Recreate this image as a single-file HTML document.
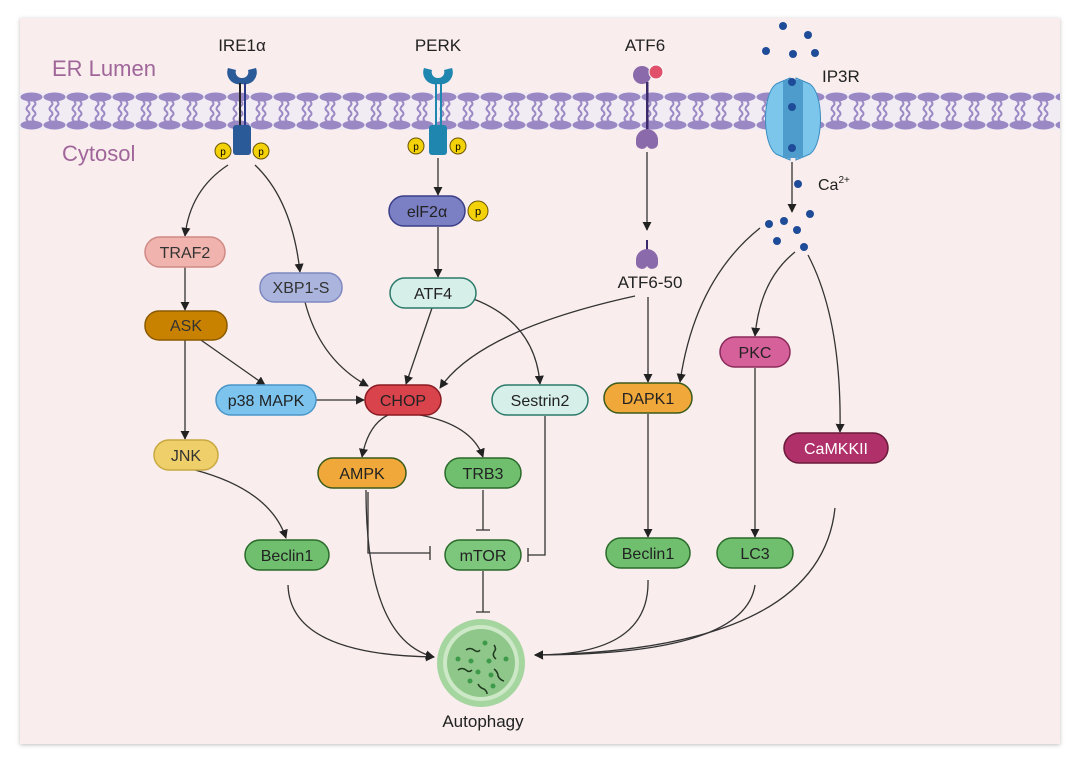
<!DOCTYPE html>
<html><head><meta charset="utf-8"><style>
html,body{margin:0;padding:0;background:#fff;}
svg{display:block;font-family:"Liberation Sans",sans-serif;}
</style></head><body>
<svg width="1080" height="764" viewBox="0 0 1080 764" xmlns="http://www.w3.org/2000/svg">
<defs>
<marker id="a" viewBox="0 0 10 10" refX="9" refY="5" markerWidth="7" markerHeight="7" orient="auto-start-reverse"><path d="M0,0 L10,5 L0,10 z" fill="#222"/></marker>
<filter id="sh" x="-5%" y="-5%" width="110%" height="110%"><feDropShadow dx="0" dy="1" stdDeviation="2" flood-color="#000" flood-opacity="0.25"/></filter>
<pattern id="lip" x="20" y="92" width="23" height="38" patternUnits="userSpaceOnUse">
<ellipse cx="11.5" cy="5" rx="11" ry="4.5" fill="#9a88c4"/>
<ellipse cx="11.5" cy="33" rx="11" ry="4.5" fill="#9a88c4"/>
<path d="M8,9 q3,3 0,5 q-3,3 0,5 M14,9 q3,3 0,5 q-3,3 0,5 M8,19 q3,3 0,5 q-3,3 0,5 M14,19 q3,3 0,5 q-3,3 0,5" stroke="#9a88c4" stroke-width="2" fill="none"/>
</pattern>
</defs>
<rect x="20" y="18" width="1040" height="726" fill="#f9eded" filter="url(#sh)"/>
<rect x="20" y="92" width="1040" height="38" fill="#f1ebf3"/>
<rect x="20" y="92" width="1040" height="38" fill="url(#lip)"/>

<g font-size="22" fill="#a0669a">
<text x="52" y="76">ER Lumen</text>
<text x="62" y="161">Cytosol</text>
</g>
<g font-size="17" fill="#222" text-anchor="middle">
<text x="242" y="51">IRE1α</text>
<text x="438" y="51">PERK</text>
<text x="645" y="51">ATF6</text>
<text x="650" y="288">ATF6-50</text>
<text x="483" y="727">Autophagy</text>
</g>
<text x="822" y="82" font-size="17" fill="#222">IP3R</text>
<text x="818" y="190" font-size="16" fill="#222">Ca<tspan font-size="10" dy="-7">2+</tspan></text>

<!-- IRE1 -->
<path d="M228,68 a12,12 0 0 0 14,16 l0,-6 a6,6 0 0 1 -6,-8z M256,68 a12,12 0 0 1 -14,16 l0,-6 a6,6 0 0 0 6,-8z" fill="#2a5a98"/>
<rect x="239" y="83" width="2" height="44" fill="#222"/><rect x="244" y="83" width="2" height="44" fill="#2a3a88"/>
<rect x="233" y="125" width="18" height="30" rx="3" fill="#2a5a98"/>
<circle cx="223" cy="151" r="8" fill="#f4d20a" stroke="#6a5500"/><text x="223" y="155" font-size="10" text-anchor="middle">p</text>
<circle cx="261" cy="151" r="8" fill="#f4d20a" stroke="#6a5500"/><text x="261" y="155" font-size="10" text-anchor="middle">p</text>
<!-- PERK -->
<path d="M424,68 a12,12 0 0 0 14,16 l0,-6 a6,6 0 0 1 -6,-8z M452,68 a12,12 0 0 1 -14,16 l0,-6 a6,6 0 0 0 6,-8z" fill="#1f86b0"/>
<rect x="435" y="83" width="2" height="44" fill="#1f86b0"/><rect x="440" y="83" width="2" height="44" fill="#1f86b0"/>
<rect x="429" y="125" width="18" height="30" rx="3" fill="#1f86b0"/>
<circle cx="416" cy="146" r="8" fill="#f4d20a" stroke="#6a5500"/><text x="416" y="150" font-size="10" text-anchor="middle">p</text>
<circle cx="458" cy="146" r="8" fill="#f4d20a" stroke="#6a5500"/><text x="458" y="150" font-size="10" text-anchor="middle">p</text>
<!-- ATF6 -->
<circle cx="642" cy="75" r="9" fill="#8a6aaa"/><circle cx="656" cy="72" r="7" fill="#e0506a" stroke="#fff"/>
<rect x="646" y="82" width="2.5" height="48" fill="#3a2a6a"/>
<path d="M636,140 a11,11 0 0 1 22,0 l0,4 a6,6 0 0 1 -11,2 a6,6 0 0 1 -11,-2z" fill="#8a6aaa"/>
<rect x="646" y="240" width="2" height="10" fill="#3a2a6a"/>
<path d="M636,260 a11,11 0 0 1 22,0 l0,4 a6,6 0 0 1 -11,2 a6,6 0 0 1 -11,-2z" fill="#8a6aaa"/>
<!-- IP3R -->
<path d="M790,78 l-14,6 c-14,10 -14,60 0,70 l14,6z M796,78 l14,6 c14,10 14,60 0,70 l-14,6z" fill="#7cc6ec" stroke="#3b8cc0"/>
<rect x="783" y="80" width="20" height="78" fill="#4d9ccc"/>
<g fill="#1f4c98">
<circle cx="783" cy="26" r="4"/><circle cx="808" cy="35" r="4"/><circle cx="766" cy="51" r="4"/><circle cx="793" cy="54" r="4"/><circle cx="815" cy="53" r="4"/>
<circle cx="792" cy="82" r="4"/><circle cx="792" cy="107" r="4"/><circle cx="792" cy="148" r="4"/><circle cx="798" cy="184" r="4"/>
<circle cx="810" cy="214" r="4"/><circle cx="769" cy="224" r="4"/><circle cx="784" cy="221" r="4"/><circle cx="797" cy="230" r="4"/><circle cx="777" cy="241" r="4"/><circle cx="804" cy="247" r="4"/>
</g>

<!-- connectors -->
<g fill="none" stroke="#333" stroke-width="1.3">
<path d="M228,165 Q190,190 185,236" marker-end="url(#a)"/>
<path d="M255,165 Q292,200 300,272" marker-end="url(#a)"/>
<path d="M185,267 L185,310" marker-end="url(#a)"/>
<path d="M198,338 L265,385" marker-end="url(#a)"/>
<path d="M185,340 L185,439" marker-end="url(#a)"/>
<path d="M305,302 Q320,360 368,386" marker-end="url(#a)"/>
<path d="M316,400 L364,400" marker-end="url(#a)"/>
<path d="M432,308 L406,384" marker-end="url(#a)"/>
<path d="M468,297 Q535,320 540,384" marker-end="url(#a)"/>
<path d="M635,296 Q480,330 440,388" marker-end="url(#a)"/>
<path d="M648,297 L648,382" marker-end="url(#a)"/>
<path d="M438,158 L438,195" marker-end="url(#a)"/>
<path d="M438,227 L438,277" marker-end="url(#a)"/>
<path d="M388,415 Q368,425 362,457" marker-end="url(#a)"/>
<path d="M420,415 Q472,425 483,457" marker-end="url(#a)"/>
<path d="M483,490 L483,530 M476,530 L490,530"/>
<path d="M368,492 L368,553 L430,553 M430,546 L430,560"/>
<path d="M545,416 L545,555 L528,555 M528,548 L528,562"/>
<path d="M483,571 L483,612 M476,612 L490,612"/>
<path d="M195,470 Q270,490 286,538" marker-end="url(#a)"/>
<path d="M288,585 Q290,655 434,657" marker-end="url(#a)"/>
<path d="M366,490 Q366,640 434,657" marker-end="url(#a)"/>
<path d="M648,580 Q650,655 535,655" marker-end="url(#a)"/>
<path d="M755,585 Q745,655 535,655" marker-end="url(#a)"/>
<path d="M835,508 Q820,650 535,655" marker-end="url(#a)"/>
<path d="M760,228 Q695,280 680,382" marker-end="url(#a)"/>
<path d="M795,252 Q760,280 755,336" marker-end="url(#a)"/>
<path d="M808,255 Q842,320 840,432" marker-end="url(#a)"/>
<path d="M648,414 L648,537" marker-end="url(#a)"/>
<path d="M755,368 L755,537" marker-end="url(#a)"/>
<path d="M647,152 L647,230" marker-end="url(#a)"/>
<path d="M792,162 L792,212" marker-end="url(#a)"/>
</g>

<!-- nodes -->
<g font-size="16" text-anchor="middle" stroke-width="1.5">
<rect x="145" y="237" width="80" height="30" rx="15" fill="#f0b3ad" stroke="#d08a85"/><text x="185" y="258" fill="#333">TRAF2</text>
<rect x="260" y="273" width="82" height="29" rx="14" fill="#aab4dc" stroke="#7d88c0"/><text x="301" y="293" fill="#333">XBP1-S</text>
<rect x="145" y="311" width="82" height="29" rx="14" fill="#c98200" stroke="#8a5a00"/><text x="186" y="331" fill="#333">ASK</text>
<rect x="216" y="385" width="100" height="30" rx="15" fill="#7cc4ee" stroke="#4a94c8"/><text x="266" y="406" fill="#222">p38 MAPK</text>
<rect x="154" y="440" width="64" height="30" rx="15" fill="#efcf6a" stroke="#c8a840"/><text x="186" y="461" fill="#333">JNK</text>
<rect x="389" y="196" width="76" height="30" rx="15" fill="#7b7fc4" stroke="#3a3e88"/><text x="427" y="217" fill="#222">elF2α</text>
<circle cx="478" cy="211" r="10" fill="#f4d20a" stroke="#6a5500" stroke-width="1"/><text x="478" y="215" font-size="11">p</text>
<rect x="390" y="278" width="86" height="30" rx="15" fill="#d6efe9" stroke="#2b7a6a"/><text x="433" y="299" fill="#222">ATF4</text>
<rect x="365" y="385" width="76" height="30" rx="15" fill="#d9434c" stroke="#8a1a22"/><text x="403" y="406" fill="#222">CHOP</text>
<rect x="492" y="385" width="96" height="30" rx="15" fill="#d6efe9" stroke="#2b7a6a"/><text x="540" y="406" fill="#222">Sestrin2</text>
<rect x="318" y="458" width="88" height="30" rx="15" fill="#f0a83a" stroke="#3a5a1a"/><text x="362" y="479" fill="#222">AMPK</text>
<rect x="445" y="458" width="76" height="30" rx="15" fill="#6fbf6f" stroke="#2a6a2a"/><text x="483" y="479" fill="#222">TRB3</text>
<rect x="445" y="540" width="76" height="30" rx="15" fill="#7cc77c" stroke="#2a6a2a"/><text x="483" y="561" fill="#222">mTOR</text>
<rect x="245" y="540" width="84" height="30" rx="15" fill="#6fbf6f" stroke="#2a6a2a"/><text x="287" y="561" fill="#222">Beclin1</text>
<rect x="604" y="383" width="88" height="30" rx="15" fill="#f0a83a" stroke="#3a5a1a"/><text x="648" y="404" fill="#222">DAPK1</text>
<rect x="606" y="538" width="84" height="30" rx="15" fill="#6fbf6f" stroke="#2a6a2a"/><text x="648" y="559" fill="#222">Beclin1</text>
<rect x="720" y="337" width="70" height="30" rx="15" fill="#d6609a" stroke="#8a2a5a"/><text x="755" y="358" fill="#222">PKC</text>
<rect x="717" y="538" width="76" height="30" rx="15" fill="#6fbf6f" stroke="#2a6a2a"/><text x="755" y="559" fill="#222">LC3</text>
<rect x="784" y="433" width="104" height="30" rx="15" fill="#b0306a" stroke="#6a1a3a"/><text x="836" y="454" fill="#fff">CaMKKII</text>
</g>

<!-- autophagy -->
<circle cx="481" cy="663" r="44" fill="#a6d6a0"/>
<circle cx="481" cy="663" r="38" fill="#cde8c6"/>
<circle cx="481" cy="663" r="34" fill="#8fc78a"/>
<g fill="#3d9a4a"><circle cx="485" cy="643" r="2.5"/><circle cx="458" cy="659" r="2.5"/><circle cx="471" cy="661" r="2.5"/><circle cx="489" cy="661" r="2.5"/><circle cx="506" cy="659" r="2.5"/><circle cx="478" cy="672" r="2.5"/><circle cx="491" cy="675" r="2.5"/><circle cx="470" cy="681" r="2.5"/><circle cx="493" cy="686" r="2.5"/></g>
<g stroke="#1f3a1f" stroke-width="1.5" fill="none"><path d="M466,650 q4,-3 8,0 q4,3 6,0"/><path d="M494,645 q3,4 0,7 q-2,4 2,7"/><path d="M458,670 q4,-3 8,0 q3,3 6,0"/><path d="M494,669 q4,3 4,7 q2,4 6,5"/><path d="M478,684 q2,4 6,5 q3,2 3,5"/></g>
</svg>
</body></html>
